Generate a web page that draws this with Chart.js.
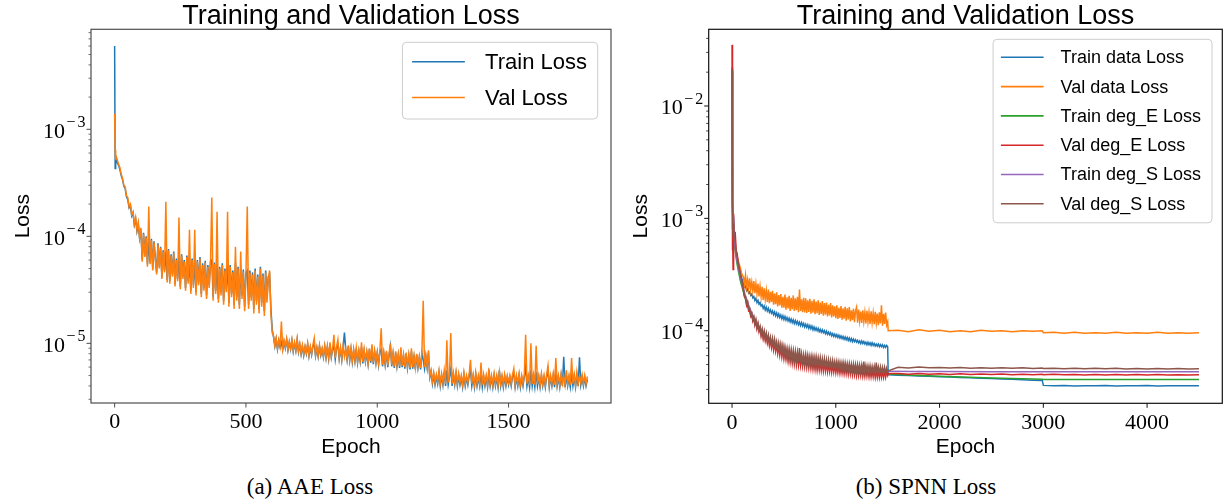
<!DOCTYPE html>
<html>
<head>
<meta charset="utf-8">
<title>Training and Validation Loss</title>
<script src="https://cdn.jsdelivr.net/npm/chart.js@4.4.1/dist/chart.umd.min.js"></script>
<style>
  html, body { margin: 0; padding: 0; background: #fff; }
  #page { position: relative; width: 1225px; height: 502px; overflow: hidden; }
  canvas { position: absolute; top: 0; }
  #aaeChart { left: 0; }
  #spnnChart { left: 615px; }
  .caption { position: absolute; top: 475px; width: 240px; text-align: center;
             font: 23px/23px "Liberation Serif", serif; color: #000; }
</style>
</head>
<body>
<div id="page">
  <canvas id="aaeChart" width="615" height="470"></canvas>
  <canvas id="spnnChart" width="610" height="470"></canvas>
  <div class="caption" style="left:190px">(a) AAE Loss</div>
  <div class="caption" style="left:806px">(b) SPNN Loss</div>
</div>
<script>
// all loss values below are written in units of 1e-6
const MICRO = 1e-6;

// ---- (a) AAE loss ----
const aaeEpochs = [0, 2, 4, 6];
for (let e = 10; e <= 1800; e += 5) aaeEpochs.push(e);

const aaeTrainLoss = [6000, 430, 470, 530,
  490, 460, 420, 370, 340, 295, 280, 235, 220, 185, 195, 155, 165, 128, 145, 112, 130, 96, 115,
  60, 108, 66, 100, 55, 90, 57, 95, 50, 90, 62, 46, 86, 52, 80, 42, 74, 48, 72, 39,
  76, 38, 68, 44, 72, 36, 62, 40, 64, 34, 68, 42, 60, 33, 66, 38, 56, 31, 62, 35,
  58, 30, 60, 37, 64, 29, 56, 33, 59, 28, 54, 35, 58, 60, 27, 57, 31, 55, 26, 52,
  30, 56, 25, 50, 32, 54, 24, 54, 29, 48, 23, 56, 27, 52, 23, 50, 28, 49, 22, 46,
  48, 23, 48, 27, 46, 21, 50, 25, 44, 21, 52, 24, 45, 20, 48, 26, 42, 44, 21, 13.5,
  11.5, 9.4, 11.0, 8.8, 10.6, 9.2, 10.2, 8.7, 10.4, 9.0, 10.8, 8.6, 10.2, 8.8, 10.6, 8.4, 10.0, 8.5, 10.8, 8.3,
  9.7, 7.9, 9.4, 7.7, 9.2, 8.0, 9.8, 7.6, 9.1, 7.8, 9.5, 9.8, 7.6, 9.0, 7.5, 9.4, 7.7, 8.8, 7.4, 9.3,
  7.3, 9.2, 7.2, 9.8, 7.4, 8.8, 9.4, 7.1, 9.1, 9.6, 7.2, 8.9, 7.0, 9.3, 12.6, 8.7, 7.0, 9.4, 6.9, 8.8,
  6.7, 8.6, 6.8, 8.9, 6.6, 8.4, 6.8, 9.2, 6.5, 8.5, 6.7, 8.2, 6.4, 8.8, 6.6, 9.0, 6.4, 8.3, 6.5, 8.1,
  6.3, 8.4, 8.8, 6.1, 8.0, 6.3, 8.3, 6.0, 7.8, 9.4, 6.1, 7.9, 5.9, 8.2, 6.1, 7.7, 5.9, 8.6, 6.0, 7.6,
  5.8, 8.0, 5.9, 7.6, 5.7, 8.4, 5.8, 7.4, 5.7, 7.8, 5.9, 7.3, 5.7, 8.1, 7.0, 5.8, 7.5, 5.9, 8.2, 4.8,
  5.4, 4.2, 5.1, 4.1, 4.9, 4.2, 5.3, 4.0, 5.0, 4.1, 5.4, 4.0, 5.6, 4.1, 4.9, 5.8, 4.0, 5.1, 4.1, 5.2,
  4.0, 5.0, 4.1, 4.8, 3.9, 5.1, 4.0, 4.8, 4.1, 5.0, 5.6, 4.0, 4.9, 3.9, 5.1, 4.0, 4.8, 4.0, 5.4, 3.9,
  4.9, 4.0, 4.8, 3.9, 5.2, 4.0, 4.8, 3.9, 5.0, 4.0, 4.8, 3.9, 5.6, 4.0, 4.8, 3.9, 4.9, 4.0, 4.8, 4.1,
  4.8, 4.0, 4.9, 5.2, 3.9, 4.8, 4.0, 5.0, 3.9, 4.8, 4.0, 4.9, 6.0, 4.0, 4.8, 3.9, 5.6, 4.0, 4.9, 3.9,
  5.4, 4.0, 4.8, 3.9, 5.0, 4.0, 4.8, 3.9, 4.9, 5.6, 3.9, 4.8, 4.0, 5.0, 3.9, 5.8, 4.0, 4.8, 3.9, 5.0,
  4.0, 7.5, 3.9, 5.0, 4.0, 4.8, 3.9, 5.2, 4.0, 4.9, 3.9, 5.0, 4.0, 7.4, 4.1, 4.8, 4.0, 4.8, 4.0, 4.6];

const aaeValLoss = [1400, 640, 520, 560,
  520, 470, 440, 380, 350, 300, 290, 240, 230, 190, 200, 160, 170, 130, 150, 115, 135, 98, 120,
  58, 105, 64, 98, 52, 190, 55, 92, 48, 88, 60, 44, 84, 50, 78, 40, 72, 46, 210, 37,
  74, 36, 66, 42, 70, 34, 60, 38, 150, 32, 66, 40, 58, 31, 64, 36, 115, 29, 60, 33,
  115, 28, 58, 35, 62, 27, 54, 31, 57, 26, 52, 33, 56, 230, 25, 55, 29, 170, 24, 50,
  28, 54, 23, 48, 30, 170, 22, 52, 27, 46, 21, 80, 25, 50, 21, 72, 26, 47, 20, 44,
  190, 21, 46, 25, 44, 19, 48, 23, 42, 19, 50, 22, 43, 18, 46, 24, 40, 48, 19, 12.5,
  11.8, 9.6, 11.2, 9.0, 10.8, 9.4, 16, 8.9, 10.6, 9.2, 11.0, 8.8, 10.4, 9.0, 10.8, 8.6, 10.2, 8.7, 11.0, 8.5,
  9.9, 8.1, 9.6, 7.9, 9.4, 8.2, 10.0, 7.8, 9.3, 8.0, 9.7, 11.2, 7.8, 9.2, 7.7, 9.6, 7.9, 9.0, 7.6, 9.5,
  7.5, 9.4, 7.4, 10.2, 7.6, 9.0, 12.0, 7.3, 9.3, 10.8, 7.4, 9.1, 7.2, 9.5, 7.5, 8.9, 7.2, 9.6, 7.1, 9.0,
  6.9, 8.8, 7.0, 9.1, 6.8, 8.6, 7.0, 10.2, 6.7, 8.7, 6.9, 8.4, 6.6, 9.0, 6.8, 9.8, 6.6, 8.5, 6.7, 8.3,
  6.5, 8.6, 13.8, 6.3, 8.2, 6.5, 8.5, 6.2, 8.0, 10.0, 6.3, 8.1, 6.1, 8.4, 6.3, 7.9, 6.1, 9.2, 6.2, 7.8,
  6.0, 8.2, 6.1, 7.8, 5.9, 9.0, 6.0, 7.6, 5.9, 8.0, 6.1, 7.5, 5.9, 8.3, 25, 6.0, 7.7, 6.1, 8.6, 4.9,
  5.6, 4.4, 5.3, 4.3, 5.1, 4.4, 5.5, 4.2, 5.2, 4.3, 5.6, 4.2, 10.7, 4.3, 5.1, 12.5, 4.2, 5.3, 4.3, 5.4,
  4.2, 5.2, 4.3, 5.0, 4.1, 5.3, 4.2, 5.0, 4.3, 5.2, 7.0, 4.2, 5.1, 4.1, 5.3, 4.2, 5.0, 4.2, 6.6, 4.1,
  5.1, 4.2, 5.0, 4.1, 5.8, 4.2, 5.0, 4.1, 5.2, 4.2, 5.0, 4.1, 5.4, 4.2, 5.0, 4.1, 5.1, 4.2, 5.0, 4.3,
  5.0, 4.2, 5.1, 5.8, 4.1, 5.0, 4.2, 5.2, 4.1, 5.0, 4.2, 5.1, 12.0, 4.2, 5.0, 4.1, 10.0, 4.2, 5.1, 4.1,
  9.5, 4.2, 5.0, 4.1, 5.2, 4.2, 5.0, 4.1, 5.1, 6.2, 4.1, 5.0, 4.2, 5.2, 4.1, 7.3, 4.2, 5.0, 4.1, 5.2,
  4.2, 5.0, 4.1, 5.6, 4.2, 5.0, 4.1, 7.3, 4.2, 5.1, 4.1, 5.4, 4.2, 5.0, 4.3, 5.1, 4.2, 5.0, 4.2, 4.9];

const aaeXTicks = [0, 500, 1000, 1500];
const aaeYExps = [-5, -4, -3];

// ---- (b) SPNN loss ----
const spnnEpochs = [0, 3, 6, 10, 15, 20, 30, 40, 50, 60, 70, 80, 90, 100];
for (let e = 110; e <= 1490; e += 10) spnnEpochs.push(e);
spnnEpochs.push(1500, 1505);
for (let e = 1600; e <= 2900; e += 100) spnnEpochs.push(e);
spnnEpochs.push(2990);
for (let e = 3000; e <= 4500; e += 100) spnnEpochs.push(e);

const spnnSmoothEpochs = [0, 3, 6, 10, 15, 20, 30, 40, 50, 60, 70, 80, 90, 100, 125, 150,
  200, 250, 300, 400, 500, 600, 750, 900, 1000, 1250, 1495, 1505, 1750, 2000, 2500,
  2990, 3000, 3500, 4000, 4500];

const spnnTrainData = [20000, 1800, 1200, 950, 800, 680, 560, 480, 430, 390, 350, 320, 300, 280,
  262, 244, 250, 228, 236, 216, 222, 206, 212, 196,
  202, 186, 194, 178, 186, 172, 178, 166, 170, 158,
  166, 153, 162, 150, 158, 146, 153, 143, 150, 139,
  147, 136, 144, 133, 141, 131, 138, 128, 136, 126,
  134, 124, 131, 122, 129, 120, 127, 118, 125, 116,
  123, 115, 121, 113, 119, 111, 118, 110, 116, 108,
  114, 107, 113, 105, 111, 104, 110, 102, 108, 101,
  106, 100, 105, 98, 103, 97, 102, 96, 100, 94,
  99, 93, 97, 92, 96, 90, 94, 89, 93, 88,
  92, 87, 91, 86, 90, 85, 89, 84, 88, 83,
  87, 82, 86, 81, 85, 80, 84, 80, 83, 79,
  82, 78, 81, 77, 81, 77, 80, 76, 79, 75,
  79, 75, 78, 74, 78, 74, 77, 73, 76, 73,
  76, 72, 75, 72, 75, 71, 74, 71, 74,
  72, 40.5,
  40.2, 39.9, 39.6, 39.3, 39.0, 38.7, 38.4, 38.1, 37.8, 37.5, 37.2, 36.9, 36.6, 36.3,
  36.1,
  32.6, 32.3, 32.5, 32.2, 32.4, 32.3, 32.5, 32.2, 32.4, 32.3, 32.5, 32.2, 32.4, 32.3, 32.4, 32.3];

const spnnValData = [2900, 1500, 1100, 900, 750, 640, 560, 500, 450, 420, 390, 360, 330, 310,
  300, 258, 312, 246, 284, 236, 292, 230, 270, 226,
  276, 216, 262, 214, 262, 202, 248, 200, 246, 188,
  238, 190, 228, 180, 232, 176, 222, 180, 226, 170,
  214, 172, 220, 164, 208, 168, 212, 160, 200, 160,
  210, 154, 198, 158, 204, 150, 196, 155, 206, 150,
  194, 152, 200, 146, 232, 150, 190, 146, 196, 145,
  194, 144, 186, 147, 192, 142, 184, 145, 190, 140,
  182, 143, 186, 138, 178, 141, 184, 136, 176, 139,
  178, 134, 170, 137, 176, 131, 168, 134, 165, 129,
  168, 127, 160, 130, 166, 125, 158, 128, 163, 123,
  158, 126, 162, 121, 152, 124, 157, 119, 150, 162,
  118, 154, 122, 148, 117, 152, 121, 146, 116, 150,
  120, 145, 115, 149, 118, 143, 114, 147, 117, 142,
  112, 146, 116, 168, 111, 141, 115, 145, 112,
  120, 100,
  101, 98, 102, 99, 101, 98, 100, 98, 101, 99, 100, 98, 100, 99,
  100,
  96, 97, 95, 97, 95, 96, 95, 97, 95, 96, 95, 97, 95, 96, 95, 96];

const spnnTrainDegE = [22000, 2200, 1400, 1000, 780, 650, 520, 440, 385, 345, 310, 280, 258, 238,
  195, 165, 128, 106, 92, 74, 64, 58, 53, 49.5, 48, 44.5, 41.5, 41.2, 40.2, 39.4, 38,
  36.9, 36.8, 36.7, 36.7, 36.7];

const spnnValDegE = [35000, 520, 900, 350, 1100, 600, 760, 520, 480, 400, 360, 320, 290, 255,
  228, 200, 196, 168, 178, 150, 152, 134, 140, 122,
  130, 112, 122, 104, 114, 98, 106, 90, 100, 85,
  96, 82, 92, 78, 88, 74, 84, 71, 82, 68,
  80, 66, 76, 63, 74, 61, 72, 59, 70, 57,
  68, 56, 66, 54, 65, 53, 64, 52, 63, 51,
  62, 50, 61, 49.5, 60, 49, 59, 48.5, 58, 48,
  58, 47.5, 57, 47, 56, 46.5, 56, 46, 55, 45.5,
  55, 45, 54, 45, 54, 44.5, 53, 44, 53, 44,
  52, 43.5, 52, 43.5, 51, 43, 51, 43, 50, 42.5,
  50, 42.5, 49.5, 42, 49, 42, 49, 41.5, 48.5, 41.5,
  48, 41, 48, 41, 47.5, 40.5, 47.5, 40.5, 47, 40,
  47, 40, 46.5, 40, 46.5, 39.5, 46, 39.5, 46, 39.5,
  45.5, 39, 45.5, 39, 45, 39, 45, 38.5, 45, 38.5,
  44.5, 38.5, 44.5, 38.5, 44, 38.5, 44, 38.5, 43.5,
  40, 41.5,
  41.6, 41.0, 41.5, 40.9, 41.4, 40.8, 41.3, 40.8, 41.2, 40.7, 41.1, 40.6, 41.0, 40.6,
  40.9,
  40.5, 40.9, 40.5, 40.8, 40.4, 40.8, 40.4, 40.7, 40.4, 40.7, 40.3, 40.7, 40.3, 40.6, 40.3, 40.6];

const spnnTrainDegS = [21000, 2100, 1400, 1050, 820, 680, 550, 470, 410, 365, 330, 300, 275, 255,
  210, 178, 136, 110, 95, 76, 66, 59, 54, 50.5, 49, 46, 44, 43.5, 43.4, 43.3, 43.2,
  43.1, 43.1, 43, 43, 43];

const spnnValDegS = [21000, 800, 1300, 700, 900, 640, 620, 500, 450, 390, 350, 320, 285, 260,
  232, 206, 200, 174, 182, 156, 158, 138, 144, 126,
  134, 116, 126, 107, 117, 101, 109, 93, 103, 88,
  99, 85, 95, 81, 91, 77, 87, 74, 85, 71,
  83, 69, 79, 66, 77, 64, 75, 62, 73, 60,
  71, 59, 69, 57, 68, 56, 67, 55, 66, 54,
  65, 53, 64, 52.5, 70, 52, 62, 51.5, 61, 51,
  61, 50.5, 60, 50, 59, 49.5, 59, 49, 58, 48.5,
  58, 48, 57, 48, 57, 47.5, 56, 47, 56, 47,
  55, 46.5, 55, 46.5, 54, 46, 54, 46, 53, 45.5,
  53, 45.5, 52.5, 45, 52, 45, 52, 44.5, 51.5, 44.5,
  51, 44, 51, 44, 50.5, 43.5, 50.5, 43.5, 50, 43,
  50, 43, 49.5, 43, 49.5, 42.5, 53, 42.5, 49, 42.5,
  48.5, 42, 48.5, 42, 48, 42, 48, 41.5, 52, 41.5,
  47.5, 41.5, 47.5, 41.5, 47, 41.5, 47, 41.5, 46.5,
  43, 44,
  47.2, 46.6, 47.4, 46.7, 47.1, 46.5, 47.0, 46.4, 46.9, 46.3, 46.8, 46.2, 46.7, 46.1,
  46.5,
  46.0, 46.4, 45.9, 46.3, 45.8, 46.2, 45.8, 46.2, 45.7, 46.1, 45.7, 46.1, 45.7, 46.0, 45.7, 45.9];

const spnnXTicks = [0, 1000, 2000, 3000, 4000];
const spnnYExps = [-4, -3, -2];

// matplotlib tab10
const C = {
  blue: '#1f77b4', orange: '#ff7f0e', green: '#2ca02c',
  red: '#d62728', purple: '#9467bd', brown: '#8c564b'
};

const pts = (xs, ys) => xs.map((e, i) => ({ x: e, y: ys[i] * MICRO }));

function drawPow(ctx, exp, xRight, py) {
  const base = '10';
  const minus = '\u2212';
  const digit = String(Math.abs(exp));
  ctx.textAlign = 'left';
  ctx.font = '16px "Liberation Serif"';
  const wm = ctx.measureText(minus).width;
  const wd = ctx.measureText(digit).width;
  ctx.font = '22px "Liberation Serif"';
  const wb = ctx.measureText(base).width;
  let x0 = xRight - wd - 2 - wm - 1.5 - wb;
  ctx.fillText(base, x0, py + 8.5);
  ctx.font = '16px "Liberation Serif"';
  x0 += wb + 1.5;
  ctx.fillText(minus, x0, py - 2);
  ctx.fillText(digit, x0 + wm + 2, py - 2);
}

function drawLegend(ctx, chart, L, a) {
  const sets = chart.data.datasets;
  ctx.font = L.font;
  const textW = Math.max(...sets.map(d => ctx.measureText(d.label).width));
  const w = L.textX + textW + L.padR;
  const h = L.padTop + L.rowH * (sets.length - 1) + L.padBottom;
  const left = a.right - L.inset - w;
  const top = a.top + L.insetTop;
  ctx.beginPath();
  if (ctx.roundRect) ctx.roundRect(left, top, w, h, 4); else ctx.rect(left, top, w, h);
  ctx.fillStyle = 'rgba(255,255,255,0.8)';
  ctx.fill();
  ctx.strokeStyle = '#cccccc';
  ctx.lineWidth = 1;
  ctx.stroke();
  sets.forEach((d, i) => {
    const cy = top + L.padTop + i * L.rowH;
    ctx.strokeStyle = d.borderColor;
    ctx.lineWidth = 1.6;
    ctx.beginPath();
    ctx.moveTo(left + L.lineX0, cy);
    ctx.lineTo(left + L.lineX1, cy);
    ctx.stroke();
    ctx.fillStyle = '#000';
    ctx.textAlign = 'left';
    ctx.textBaseline = 'middle';
    ctx.fillText(d.label, left + L.textX, cy + 1);
  });
  ctx.textBaseline = 'alphabetic';
}

// spines, ticks, labels, title and legend drawn matplotlib style
const mplFrame = {
  id: 'mplFrame',
  afterDraw(chart, args, o) {
    const ctx = chart.ctx, a = chart.chartArea;
    const xs = chart.scales.x, ys = chart.scales.y;
    ctx.save();
    ctx.strokeStyle = o.spine;
    ctx.fillStyle = '#000';
    ctx.textBaseline = 'alphabetic';

    ctx.lineWidth = 1.2;
    ctx.strokeRect(a.left, a.top, a.right - a.left, a.bottom - a.top);

    // x ticks
    ctx.lineWidth = 1;
    ctx.font = '22px "Liberation Serif"';
    ctx.textAlign = 'center';
    o.xTicks.forEach(v => {
      const px = xs.getPixelForValue(v);
      ctx.beginPath(); ctx.moveTo(px, a.bottom); ctx.lineTo(px, a.bottom + 4.5); ctx.stroke();
      ctx.fillText(String(v), px, a.bottom + 25.3);
    });

    // y ticks, major and minor
    const lo = Math.floor(Math.log10(ys.min)), hi = Math.ceil(Math.log10(ys.max));
    for (let e = lo; e <= hi; e++) {
      for (let m = 1; m < 10; m++) {
        const v = m * Math.pow(10, e);
        if (v < ys.min || v > ys.max) continue;
        const py = ys.getPixelForValue(v);
        const len = m === 1 ? 4.5 : 2.5;
        ctx.lineWidth = m === 1 ? 1 : 0.8;
        ctx.beginPath(); ctx.moveTo(a.left - len, py); ctx.lineTo(a.left, py); ctx.stroke();
      }
    }
    o.yExps.forEach(ex => drawPow(ctx, ex, a.left - 5.5, ys.getPixelForValue(Math.pow(10, ex))));

    // axis titles
    ctx.font = '21px "Liberation Sans"';
    ctx.textAlign = 'center';
    ctx.fillText(o.xTitle, (a.left + a.right) / 2, 453.3);
    ctx.save();
    ctx.translate(a.left - 62, (a.top + a.bottom) / 2);
    ctx.rotate(-Math.PI / 2);
    ctx.fillText(o.yTitle, 0, 0);
    ctx.restore();

    // title
    ctx.font = '27px "Liberation Sans"';
    ctx.fillText(o.title, (a.left + a.right) / 2, 23.5);

    drawLegend(ctx, chart, o.legend, a);
    ctx.restore();
  }
};

function lossChart(id, datasets, x, y, pad, frame) {
  return new Chart(document.getElementById(id), {
    type: 'line',
    data: { datasets: datasets.map((d, i) => Object.assign({
      borderWidth: 1.5, pointRadius: 0, fill: false, tension: 0, order: -i
    }, d)) },
    options: {
      responsive: false,
      animation: false,
      events: [],
      layout: { padding: pad },
      plugins: { legend: { display: false }, tooltip: { enabled: false }, mplFrame: frame },
      scales: {
        x: {
          type: 'linear', min: x.min, max: x.max,
          ticks: { display: false }, grid: { display: false }, border: { display: false },
          afterFit: s => { s.height = x.size; }
        },
        y: {
          type: 'logarithmic', min: y.min, max: y.max,
          ticks: { display: false }, grid: { display: false }, border: { display: false },
          afterFit: s => { s.width = y.size; }
        }
      }
    },
    plugins: [mplFrame]
  });
}

lossChart('aaeChart', [
  { label: 'Train Loss', data: pts(aaeEpochs, aaeTrainLoss), borderColor: C.blue },
  { label: 'Val Loss', data: pts(aaeEpochs, aaeValLoss), borderColor: C.orange }
], { min: -90, max: 1890, size: 67 }, { min: 2.77e-6, max: 8.6e-3, size: 91 },
{ top: 29.3, right: 4, bottom: 0, left: 0 }, {
  title: 'Training and Validation Loss', xTitle: 'Epoch', yTitle: 'Loss',
  spine: '#4d4d4d', xTicks: aaeXTicks, yExps: aaeYExps,
  legend: { font: '22px "Liberation Sans"', inset: 13.3, insetTop: 13, padTop: 19.5,
            padBottom: 21.5, rowH: 35.7, lineX0: 9.7, lineX1: 62.4, textX: 82.7, padR: 10.7 }
});

lossChart('spnnChart', [
  { label: 'Train data Loss', data: pts(spnnEpochs, spnnTrainData), borderColor: C.blue },
  { label: 'Val data Loss', data: pts(spnnEpochs, spnnValData), borderColor: C.orange },
  { label: 'Train deg_E Loss', data: pts(spnnSmoothEpochs, spnnTrainDegE), borderColor: C.green },
  { label: 'Val deg_E Loss', data: pts(spnnEpochs, spnnValDegE), borderColor: C.red },
  { label: 'Train deg_S Loss', data: pts(spnnSmoothEpochs, spnnTrainDegS), borderColor: C.purple },
  { label: 'Val deg_S Loss', data: pts(spnnEpochs, spnnValDegS), borderColor: C.brown }
], { min: -225, max: 4725, size: 66.7 }, { min: 2.258e-5, max: 0.04816, size: 93.7 },
{ top: 29.3, right: 2.7, bottom: 0, left: 0 }, {
  title: 'Training and Validation Loss', xTitle: 'Epoch', yTitle: 'Loss',
  spine: '#111111', xTicks: spnnXTicks, yExps: spnnYExps,
  legend: { font: '18px "Liberation Sans"', inset: 10.3, insetTop: 10, padTop: 18,
            padBottom: 19, rowH: 29.3, lineX0: 7.8, lineX1: 50.5, textX: 67.5, padR: 11 }
});
</script>
</body>
</html>
